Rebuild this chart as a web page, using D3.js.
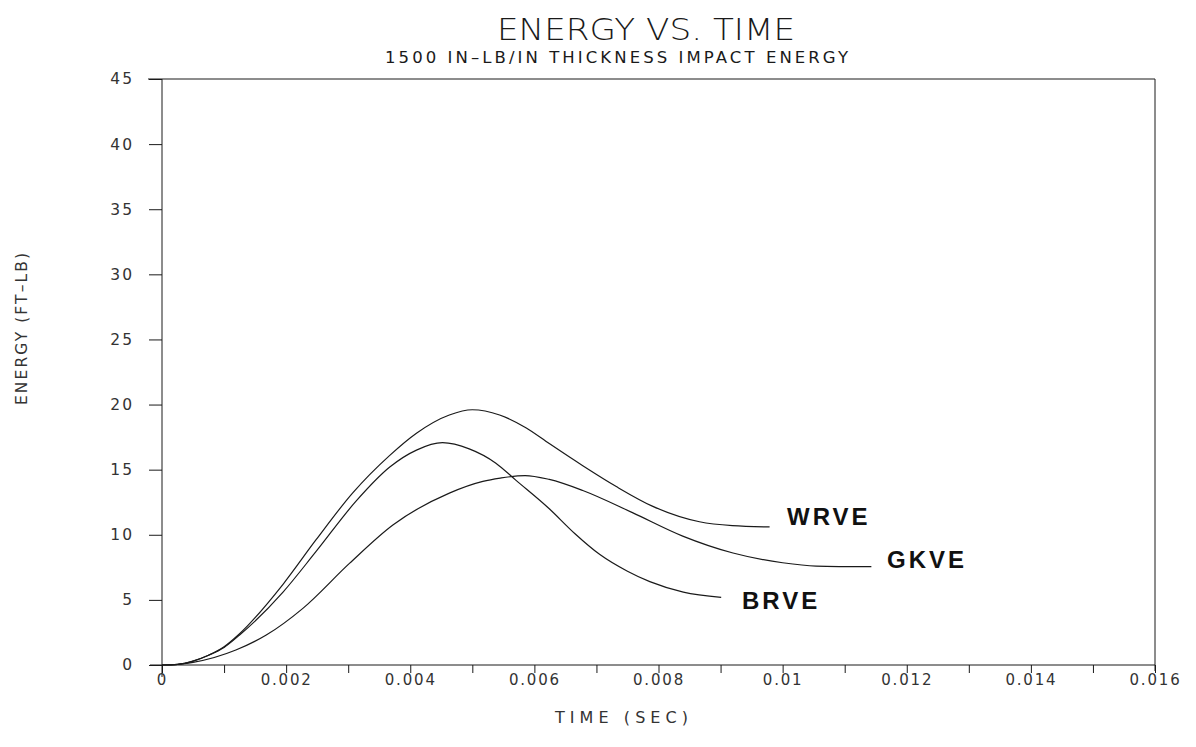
<!DOCTYPE html>
<html>
<head>
<meta charset="utf-8">
<script src="https://cdn.jsdelivr.net/npm/d3@7"></script>
<style>
  html, body { margin: 0; padding: 0; background: #fff; }
  svg { display: block; }
</style>
</head>
<body>
<svg id="chart" width="1196" height="747"></svg>
<script>
// ---- data ----
const xTicks = [0, 0.001, 0.002, 0.003, 0.004, 0.005, 0.006, 0.007, 0.008, 0.009, 0.010, 0.011, 0.012, 0.013, 0.014, 0.015, 0.016];
const xTickLabels = ["0", "0.002", "0.004", "0.006", "0.008", "0.01", "0.012", "0.014", "0.016"];
const yTicks = [0, 5, 10, 15, 20, 25, 30, 35, 40, 45];

const wrveT = [0, 0.00025, 0.0005, 0.00075, 0.001, 0.00125, 0.00195, 0.00248, 0.00307, 0.00367, 0.0041, 0.00463, 0.005, 0.00544, 0.00587, 0.00624, 0.00678, 0.00732, 0.0079, 0.00866, 0.00919, 0.00979];
const wrveE = [0, 0.05, 0.3, 0.75, 1.4, 2.4, 6.2, 9.6, 13.2, 16.1, 17.8, 19.2, 19.6, 19.2, 18.2, 17.0, 15.3, 13.7, 12.2, 11.0, 10.7, 10.6];

const gkveT = [0, 0.00025, 0.0005, 0.00119, 0.00168, 0.00227, 0.00302, 0.00372, 0.00463, 0.00517, 0.00545, 0.00585, 0.00624, 0.00678, 0.00758, 0.00839, 0.0092, 0.0100, 0.01054, 0.01143];
const gkveE = [0, 0.04, 0.2, 1.15, 2.3, 4.35, 7.8, 10.75, 13.2, 14.1, 14.35, 14.55, 14.25, 13.4, 11.7, 9.9, 8.6, 7.85, 7.6, 7.55];

const brveT = [0, 0.00025, 0.0005, 0.00075, 0.001, 0.00125, 0.00195, 0.00248, 0.00313, 0.00367, 0.0041, 0.00452, 0.00495, 0.00538, 0.0057, 0.00624, 0.00665, 0.00705, 0.0075, 0.00786, 0.0084, 0.00901];
const brveE = [0, 0.05, 0.3, 0.75, 1.35, 2.3, 5.6, 8.7, 12.6, 15.2, 16.5, 17.07, 16.6, 15.5, 14.2, 12.0, 10.1, 8.5, 7.2, 6.4, 5.6, 5.2];

const seriesNames = ["WRVE", "GKVE", "BRVE"];

// ---- layout ----
const svg = d3.select("#chart");
const pLeft = 162, pRight = 1155, pTop = 79, pBottom = 665;
const x = d3.scaleLinear().domain([0, 0.016]).range([pLeft, pRight]);
const y = d3.scaleLinear().domain([0, 45]).range([pBottom, pTop]);
const ink = "#1a1a1a";

// titles
svg.append("text").attr("x", 497).attr("y", 40)
  .attr("textLength", 298).attr("lengthAdjust", "spacingAndGlyphs")
  .attr("font-family", "DejaVu Sans").attr("font-weight", 200)
  .attr("font-size", 30).attr("fill", ink)
  .text("ENERGY VS. TIME");
svg.append("text").attr("x", 385).attr("y", 63)
  .attr("textLength", 463).attr("lengthAdjust", "spacing")
  .attr("font-family", "DejaVu Sans")
  .attr("font-size", 16.5).attr("fill", ink)
  .text("1500 IN\u2013LB/IN THICKNESS IMPACT ENERGY");

// frame (top and right)
svg.append("line").attr("x1", pLeft - 14).attr("x2", pRight).attr("y1", pTop).attr("y2", pTop)
  .attr("stroke", ink).attr("stroke-width", 1);
svg.append("line").attr("x1", pRight).attr("x2", pRight).attr("y1", pTop).attr("y2", pBottom + 6)
  .attr("stroke", ink).attr("stroke-width", 1);

// y axis
const yAxis = d3.axisLeft(y).tickValues(yTicks).tickSize(13).tickPadding(15)
  .tickFormat(d3.format("d"));
const gy = svg.append("g").attr("transform", `translate(${pLeft},0)`).call(yAxis);
gy.select(".domain").attr("d", `M0,${pTop}V${pBottom + 12}`).attr("stroke", ink);
gy.selectAll(".tick line").attr("stroke", ink);
gy.selectAll(".tick text").attr("font-family", "DejaVu Sans").attr("font-size", 15.5)
  .attr("letter-spacing", 2).attr("fill", "#333");

// x axis
const labelMap = new Map(xTickLabels.map((s, i) => [i * 2, s]));
const xAxis = d3.axisBottom(x).tickValues(xTicks).tickSize(8).tickPadding(1)
  .tickFormat((d, i) => labelMap.get(i) || "");
const gx = svg.append("g").attr("transform", `translate(0,${pBottom})`).call(xAxis);
gx.select(".domain").attr("d", `M${pLeft - 12},0H${pRight}`).attr("stroke", ink);
gx.selectAll(".tick line").attr("stroke", ink);
gx.selectAll(".tick text").attr("font-family", "DejaVu Sans").attr("font-size", 15)
  .attr("letter-spacing", 1.8).attr("fill", "#333");

// axis titles
svg.append("text").attr("x", 555).attr("y", 723)
  .attr("textLength", 133).attr("lengthAdjust", "spacing")
  .attr("font-family", "DejaVu Sans").attr("font-size", 16)
  .attr("fill", "#333").text("TIME (SEC)");
svg.append("text").attr("transform", "translate(27,405) rotate(-90)")
  .attr("textLength", 152).attr("lengthAdjust", "spacing")
  .attr("font-family", "DejaVu Sans").attr("font-size", 15.5)
  .attr("fill", "#333").text("ENERGY (FT\u2013LB)");

// curves
const line = d3.line().x(d => x(d[0])).y(d => y(d[1])).curve(d3.curveMonotoneX);
const series = [
  { name: "WRVE", t: wrveT, e: wrveE },
  { name: "GKVE", t: gkveT, e: gkveE },
  { name: "BRVE", t: brveT, e: brveE }
];
series.forEach(s => {
  svg.append("path").datum(s.t.map((t, i) => [t, s.e[i]]))
    .attr("d", line).attr("fill", "none")
    .attr("stroke", ink).attr("stroke-width", 1.2);
});

// series labels
const labelPos = { WRVE: [787, 525], GKVE: [887, 568], BRVE: [742, 609] };
seriesNames.forEach(n => {
  svg.append("text").attr("x", labelPos[n][0]).attr("y", labelPos[n][1])
    .attr("font-family", "Liberation Sans").attr("font-weight", "bold")
    .attr("font-size", 24).attr("letter-spacing", 3).attr("fill", "#111")
    .text(n);
});
</script>
</body>
</html>
